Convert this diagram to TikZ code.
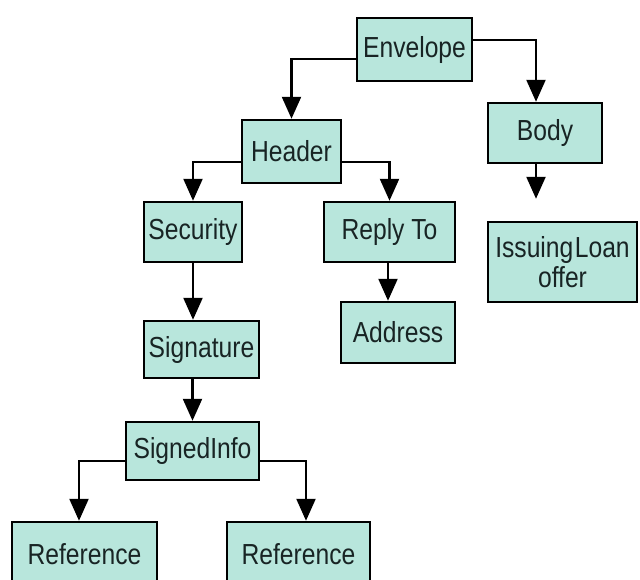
\documentclass[tikz,border=0pt]{standalone}
\usepackage{fontspec}
\setmainfont[FakeStretch=0.85]{Liberation Sans}
\usepackage{xcolor}
\usepackage{tikz}
\usetikzlibrary{arrows.meta}

\definecolor{boxfill}{RGB}{184,230,220}
\definecolor{inkdark}{RGB}{24,36,36}

\begin{document}
\begin{tikzpicture}[
  x=1pt, y=-1pt,
  tag/.style={draw=black, line width=2.5pt, fill=boxfill, inner sep=0pt, align=center,
    text=inkdark, font=\fontsize{29}{30}\selectfont},
  arrow/.style={-{Triangle[length=22pt,width=19pt]}, line width=2.4pt}
]
\clip (0,0) rectangle (640,579);
\node[tag, minimum width=115, minimum height=63] (env) at (414.5,49.5) {Envelope};
\node[tag, minimum width=99, minimum height=63] (hdr) at (291.5,151.5) {Header};
\node[tag, minimum width=114, minimum height=60] (body) at (545,133) {Body};
\node[tag, minimum width=98, minimum height=60] (sec) at (193,232) {Security};
\node[tag, minimum width=131, minimum height=60] (reply) at (389.5,232) {Reply To};
\node[tag, minimum width=149, minimum height=80] (loan) at (562.5,262) {Issuing\hspace{1.5pt}Loan\\offer};
\node[tag, minimum width=114, minimum height=61] (addr) at (398,332.5) {Address};
\node[tag, minimum width=115, minimum height=57] (sig) at (201.5,349.5) {Signature};
\node[tag, minimum width=133, minimum height=58] (sinfo) at (192.5,451) {SignedInfo};
\node[tag, minimum width=145, minimum height=64] (refa) at (84.5,554) {Reference};
\node[tag, minimum width=143, minimum height=64] (refb) at (298.5,554) {Reference};

\draw[arrow] ([yshift=-9.5pt]env.west) -| (hdr.north);
\draw[arrow] ([yshift=9.5pt]env.east) -| ([xshift=-9pt]body.north);
\draw[arrow, shorten >=22pt] ([xshift=-9pt]body.south) -- ([xshift=-9pt]body.south |- loan.north);
\draw[arrow] ([yshift=-10.5pt]hdr.west) -| (sec.north);
\draw[arrow] ([yshift=-10.5pt]hdr.east) -| (reply.north);
\draw[arrow] (sec.south) -- (sec.south |- sig.north);
\draw[arrow] ([xshift=-1.5pt]reply.south) -- ([xshift=-1.5pt]reply.south |- addr.north);
\draw[arrow] (sig.south -| sinfo.north) -- (sinfo.north);
\draw[arrow] ([yshift=-10pt]sinfo.west) -| ([xshift=-5.5pt]refa.north);
\draw[arrow] ([yshift=-10pt]sinfo.east) -| ([xshift=7.5pt]refb.north);
\end{tikzpicture}
\end{document}
